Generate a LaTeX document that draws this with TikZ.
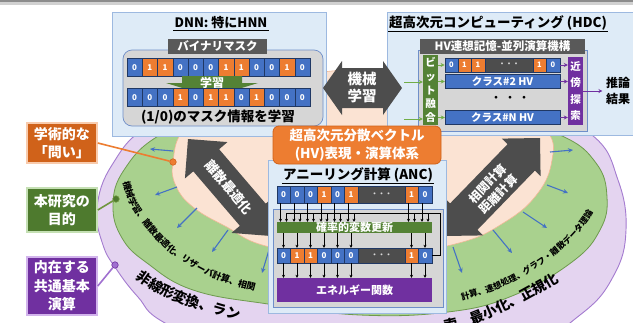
\documentclass[tikz,border=0pt]{standalone}
\usepackage{fontspec}
\setmainfont{Noto Sans CJK JP}
\usetikzlibrary{calc,decorations.text,arrows.meta}
\definecolor{bitc0}{HTML}{4472C4}
\definecolor{bitc1}{HTML}{ED7D31}
\definecolor{bitedge}{HTML}{203864}
\definecolor{dotsgray}{HTML}{4D4D4D}
\definecolor{panelblue}{HTML}{DEEBF7}
\definecolor{panelline}{HTML}{9DB9E0}
\definecolor{innergray}{HTML}{D6D6D6}
\definecolor{innerline}{HTML}{6F8FC9}
\definecolor{labelgray}{HTML}{595959}
\definecolor{gbar}{HTML}{548235}
\definecolor{pbar}{HTML}{7030A0}
\definecolor{ringp}{HTML}{E4D4F0}
\definecolor{ringpline}{HTML}{A47BD0}
\definecolor{ringg}{HTML}{A9D18E}
\definecolor{ringgline}{HTML}{6E9A4E}
\definecolor{peach}{HTML}{FBE3D3}
\definecolor{peachline}{HTML}{F2B896}
\definecolor{flowblue}{HTML}{4472C4}
\definecolor{biggray}{HTML}{4D4D4D}
\definecolor{orangelbl}{HTML}{ED7D31}
\definecolor{orangedark}{HTML}{D0621A}
\definecolor{orangeglow}{HTML}{F8CBAD}
\definecolor{greendark}{HTML}{4E7A2E}
\definecolor{greenglow}{HTML}{C5E0B4}
\definecolor{greenline}{HTML}{70963F}
\definecolor{purpledark}{HTML}{7030A0}
\definecolor{purpleglow}{HTML}{D2B4EC}
\definecolor{purpleline}{HTML}{A070D0}
\definecolor{hdcgreen}{HTML}{70AD47}
\newcommand{\fs}[2]{\fontsize{#1}{#2}\selectfont}
\newcommand{\dblarrow}[5]{%
  \coordinate (hA) at ($(#1)!#3!(#2)$);
  \coordinate (hB) at ($(#2)!#3!(#1)$);
  \fill[biggray] (#1) -- ($(hA)!#4!90:(#2)$) -- ($(hA)!#5!90:(#2)$) -- ($(hB)!#5!-90:(#1)$) -- ($(hB)!#4!-90:(#1)$) -- (#2) -- ($(hB)!#4!90:(#1)$) -- ($(hB)!#5!90:(#1)$) -- ($(hA)!#5!-90:(#2)$) -- ($(hA)!#4!-90:(#2)$) -- cycle;}
\tikzset{
  panel/.style={draw=panelline, fill=panelblue, line width=0.8pt},
  innerbox/.style={draw=innerline, fill=innergray, line width=0.7pt},
  darklabel/.style={fill=labelgray, text=white, inner sep=0pt, font=\fs{11.5}{12}\bfseries},
  bitcell/.style={draw=bitedge, line width=0.4pt, inner sep=0pt, text=white, font=\fs{8}{8}\bfseries},
  dotcell/.style={draw=bitedge, fill=dotsgray, line width=0.4pt, inner sep=0pt, text=white!85!black, font=\fs{7}{7}\bfseries},
  classbar/.style={draw=bitedge, fill=bitc0, line width=0.4pt, inner sep=0pt, text=white, font=\fs{10.5}{11}\bfseries, minimum width=115pt, minimum height=14pt},
  vbar/.style={inner sep=0pt, text=white, align=center, font=\fs{10.5}{13.6}\bfseries, minimum width=15pt},
  flowarrow/.style={draw=flowblue, line width=1.1pt, -{Stealth[length=5pt,width=4.5pt]}},
  garrow/.style={draw=hdcgreen, line width=0.9pt, -{Stealth[length=4pt,width=4pt]}},
  parrow/.style={draw=pbar, line width=0.9pt, -{Stealth[length=4pt,width=4pt]}},
  tinyarrow/.style={draw=black, line width=0.5pt, -{Stealth[length=3pt,width=3pt]}},
  sidelabel/.style={text=white, align=center, font=\fs{14}{18.5}\bfseries, minimum width=70pt, line width=1.6pt, inner sep=1pt},
  dotmark/.style={circle, minimum size=6.5pt, inner sep=0pt, line width=0.6pt},
  ringtext/.style={decorate, decoration={text along path, text align=left, text={#1}}}
}
\begin{document}
\begin{tikzpicture}[x=1pt,y=-1pt]
\useasboundingbox (0,0) rectangle (633,322);
\clip (0,0) rectangle (633,322);
\fill[white] (0,0) rectangle (633,322);
\fill[black!45] (0,0) rectangle (633,2);
\fill[black!18] (0,2) rectangle (633,4.5);

% rings
\draw[fill=ringp, draw=ringpline, line width=0.9pt] plot[smooth cycle, tension=0.7] coordinates {(360,80) (230,95) (150,125) (112,165) (97,208) (103,245) (117,270) (138,297) (165,323) (250,360) (380,372) (510,355) (580,315) (614,275) (626,230) (618,180) (592,135) (520,100)};
\draw[fill=ringg, draw=ringgline, line width=0.8pt] plot[smooth cycle, tension=0.7] coordinates {(360,98) (230,108) (160,135) (124,170) (113,205) (122,238) (147,263) (193,290) (268,304) (360,315) (448,312) (512,296) (572,262) (600,230) (607,197) (596,163) (560,135) (480,110)};
\draw[fill=peach, draw=peachline, line width=0.6pt] plot[smooth cycle, tension=0.7] coordinates {(362,70) (450,78) (515,102) (548,132) (552,160) (538,193) (505,222) (455,244) (362,258) (270,247) (225,226) (193,207) (176,186) (173,162) (185,128) (230,96) (295,77)};

% radiating arrows
\foreach \sx/\sy/\ex/\ey [count=\k] in {173/151/150/149, 177/187/155/195, 197/208/177/228, 228/230/212/252, 272/240/262/273, 550/152/573/150, 547/185/568/193, 523/212/547/228, 493/230/512/253, 453/247/462/273} {
  \coordinate (bs\k) at (\sx,\sy);
  \coordinate (be\k) at (\ex,\ey);
  \draw[flowarrow] (bs\k) -- (be\k);
}

% ring texts
\path[ringtext={|\fs{9}{9}\bfseries|機械学習、離散最適化、リザーバ計算、相関}] plot[smooth] coordinates {(123,182) (130,204) (145,226) (165,248) (190,266) (215,279) (240,287) (268,294) (300,300)};
\path[ringtext={|\fs{8.5}{9}\bfseries|計算、連想処理、グラフ・離散データ理論}] plot[smooth] coordinates {(462,300) (490,292) (520,278) (548,260) (572,240) (590,218) (601,195) (606,175)};
\path[ringtext={|\fs{14}{14}\bfseries|非線形変換、ラン}] plot[smooth] coordinates {(136,278) (160,294) (186,305) (212,313) (240,321) (275,330) (310,337)};
\path[ringtext={|\fs{14}{14}\bfseries|索、最小化、正規化}] plot[smooth] coordinates {(445,331) (470,325) (488,318) (519,304) (548,288) (578,270) (600,251) (612,238)};

% side labels
\node[sidelabel, fill=orangedark, draw=orangeglow, minimum height=40pt] (q) at (62,143) {学術的な\\「問い」};
\node[sidelabel, fill=greendark, draw=greenglow, minimum height=44pt] (g) at (62,210) {本研究の\\目的};
\node[sidelabel, fill=purpledark, draw=purpleglow, minimum height=58pt] (p) at (62,286) {内在する\\共通基本\\演算};
\node[dotmark, fill=orangelbl, draw=orangedark] (qd) at (173,162) {};
\node[dotmark, fill=greendark, draw=greenline] (gd) at (116,199) {};
\node[dotmark, fill=purpleline, draw=purpledark] (pd) at (115,265) {};
\draw[orangelbl, line width=1.6pt] (q.east) -- (qd);
\draw[greenline, line width=1.6pt] (g.east) -- (gd);
\draw[purpleline, line width=1.6pt] (p.east) -- (pd);

% big diagonal arrows
\coordinate (dA) at (188,139); \coordinate (dB) at (271,236);
\dblarrow{dA}{dB}{28pt}{28pt}{17pt}
\node[rotate=-49.4, text=white, font=\fs{13}{13}\bfseries] (dtxt) at (229,187) {離散最適化};
\coordinate (cA) at (540,138); \coordinate (cB) at (445,236);
\dblarrow{cA}{cB}{27pt}{27pt}{19pt}
\node[rotate=45.9, text=white, align=center, font=\fs{12}{15}\bfseries] (ctxt) at (493,189) {相関計算\\距離計算};

% DNN panel
\draw[panel] (112,12) rectangle (326,136);
\node[font=\fs{13}{13}\bfseries, inner sep=1pt] (dnnt) at (221,23) {DNN: 特にHNN};
\draw[line width=0.8pt] (dnnt.south west) -- (dnnt.south east);
\draw[innerbox, rounded corners=9pt] (123,50) rectangle (323,126);
\node[darklabel, minimum width=99pt, minimum height=15pt] (bm) at (217.5,46) {バイナリマスク};
\foreach \v [count=\i] in {0,1,1,0,0,0,1,1,0,0,1,0}
  \node[bitcell, fill=bitc\v, minimum width=15.25pt, minimum height=18pt] (ra\i) at ({127+15.25*(\i-0.5)},67.5) {\v};
\fill[gbar] (182,76) -- (242,76) -- (242,83) -- (258,83) -- (212,97) -- (166,83) -- (182,83) -- cycle;
\node[text=white, font=\fs{12}{12}\bfseries] (learn) at (212,82.5) {学習};
\foreach \v [count=\i] in {0,0,0,1,0,1,1,0,1,0,0,0}
  \node[bitcell, fill=bitc\v, minimum width=15.25pt, minimum height=18pt] (rb\i) at ({127+15.25*(\i-0.5)},97.5) {\v};
\node[font=\fs{13.5}{14}\bfseries] (mtext) at (218,117) {(1/0)のマスク情報を学習};

% HDC panel
\draw[panel] (387,12) rectangle (640,135);
\node[anchor=west, font=\fs{13.5}{14}\bfseries, inner sep=1pt] (hdct) at (388,23) {超高次元コンピューティング (HDC)};
\draw[line width=0.8pt] (hdct.south west) -- (hdct.south east);
\draw[innerbox] (418,50) rectangle (587,131);
\node[darklabel, minimum width=165pt, minimum height=15pt] (hvl) at (502.5,46) {HV連想記憶-並列演算機構};
\node[vbar, fill=gbar, minimum height=70pt] (bf) at (430.5,90) {ビ\\ッ\\ト\\融\\合};
\node[vbar, fill=pbar, minimum height=68pt, font=\fs{10.5}{16.5}\bfseries] (nb) at (575.5,91) {近\\傍\\探\\索};
\foreach \x/\v [count=\i] in {451.5/0,464.5/1,478/1,539.5/1,553/0}
  \node[bitcell, fill=bitc\v, minimum width=13.5pt, minimum height=14pt, font=\fs{7.5}{7.5}\bfseries] (h1\i) at (\x,65) {\v};
\node[dotcell, minimum width=48pt, minimum height=14pt] (h1d) at (509,65) {・・・};
\node[classbar] (h2) at (502.5,81.5) {クラス\#2 HV};
\node[font=\fs{10}{10}\bfseries] (hdots) at (510,99) {・\hspace{4pt}・\hspace{4pt}・};
\node[classbar] (hN) at (502.5,117.5) {クラス\#N HV};
\coordinate (gi1) at (404,82);
\coordinate (gi2) at (404,119);
\draw[garrow] (gi1) -- (gi1 -| bf.west);
\draw[garrow] (gi2) -- (gi2 -| bf.west);
\draw[garrow] (bf.east |- h11) -- (h11.west);
\draw[garrow] (bf.east |- h2) -- (h2.west);
\draw[garrow] (bf.east |- hN) -- (hN.west);
\draw[parrow] (h15.east) -- (nb.west |- h15);
\draw[parrow] (h2.east) -- (nb.west |- h2);
\draw[parrow] (hN.east) -- (nb.west |- hN);
\node[font=\fs{12}{16}\bfseries, align=center] (res) at (618,91) {推論\\結果};
\draw[parrow] (nb.east) -- (nb.east -| res.west);

% machine learning arrow
\coordinate (mA) at (323,88); \coordinate (mB) at (402,88);
\dblarrow{mA}{mB}{19pt}{27pt}{20pt}
\node[text=white, align=center, font=\fs{14.5}{17}\bfseries] (mtxt) at (362,88) {機械\\学習};

% ANC panel
\draw[panel] (268,160) rectangle (446,313);
\node[font=\fs{13.5}{14}\bfseries, inner sep=1pt] (anct) at (358,175) {アニーリング計算 (ANC)};
\draw[line width=0.8pt] (anct.south west) -- (anct.south east);
\foreach \x/\v [count=\i] in {283.5/0,297/0,310.5/0,324/1,337.5/0,351/1,411.5/1,425/0}
  \node[bitcell, fill=bitc\v, minimum width=13.5pt, minimum height=17pt] (a\i) at (\x,194.5) {\v};
\node[dotcell, minimum width=47pt, minimum height=17pt] (ad) at (381.5,194.5) {・・・};
\draw[innerbox] (273,209) rectangle (443,307);
\node[fill=gbar, text=white, minimum width=155pt, minimum height=11pt, inner sep=0pt, font=\fs{11}{11}\bfseries] (upd) at (354.5,227.5) {確率的変数更新};
\foreach \x/\v [count=\i] in {283.5/0,297/1,310.5/1,324/0,337.5/0,351/0,411.5/1,425/0}
  \node[bitcell, fill=bitc\v, minimum width=13.5pt, minimum height=15pt] (b\i) at (\x,255.5) {\v};
\node[dotcell, minimum width=47pt, minimum height=15pt] (bd) at (381.5,255.5) {・・・};
\node[fill=pbar, text=white, minimum width=155pt, minimum height=24pt, inner sep=0pt, font=\fs{11}{11}\bfseries] (en) at (354.5,290) {エネルギー関数};
\coordinate (fbR) at (440,213);
\foreach \i in {1,...,8} {
  \coordinate (al\i) at ($(a\i.south)+(-3,0)$);
  \coordinate (ar\i) at ($(a\i.south)+(3,0)$);
  \draw[tinyarrow] (al\i) -- (al\i |- upd.north);
  \draw[tinyarrow] (ar\i |- fbR) -- (ar\i |- upd.north);
  \draw[tinyarrow] (b\i.north |- upd.south) -- (b\i.north);
  \draw[tinyarrow] (b\i.south) -- (b\i.south |- en.north);
}
\draw[line width=0.5pt] (b8.east) -| (fbR) -- (ar1 |- fbR);

% HV label
\node[fill=orangelbl, draw=orangedark, line width=0.8pt, rounded corners=6pt, text=white, align=center, minimum width=168pt, minimum height=38pt, inner sep=0pt, font=\fs{13.5}{18.5}\bfseries] (hv) at (357,145) {超高次元分散ベクトル\\(HV)表現・演算体系};
\end{tikzpicture}
\end{document}
